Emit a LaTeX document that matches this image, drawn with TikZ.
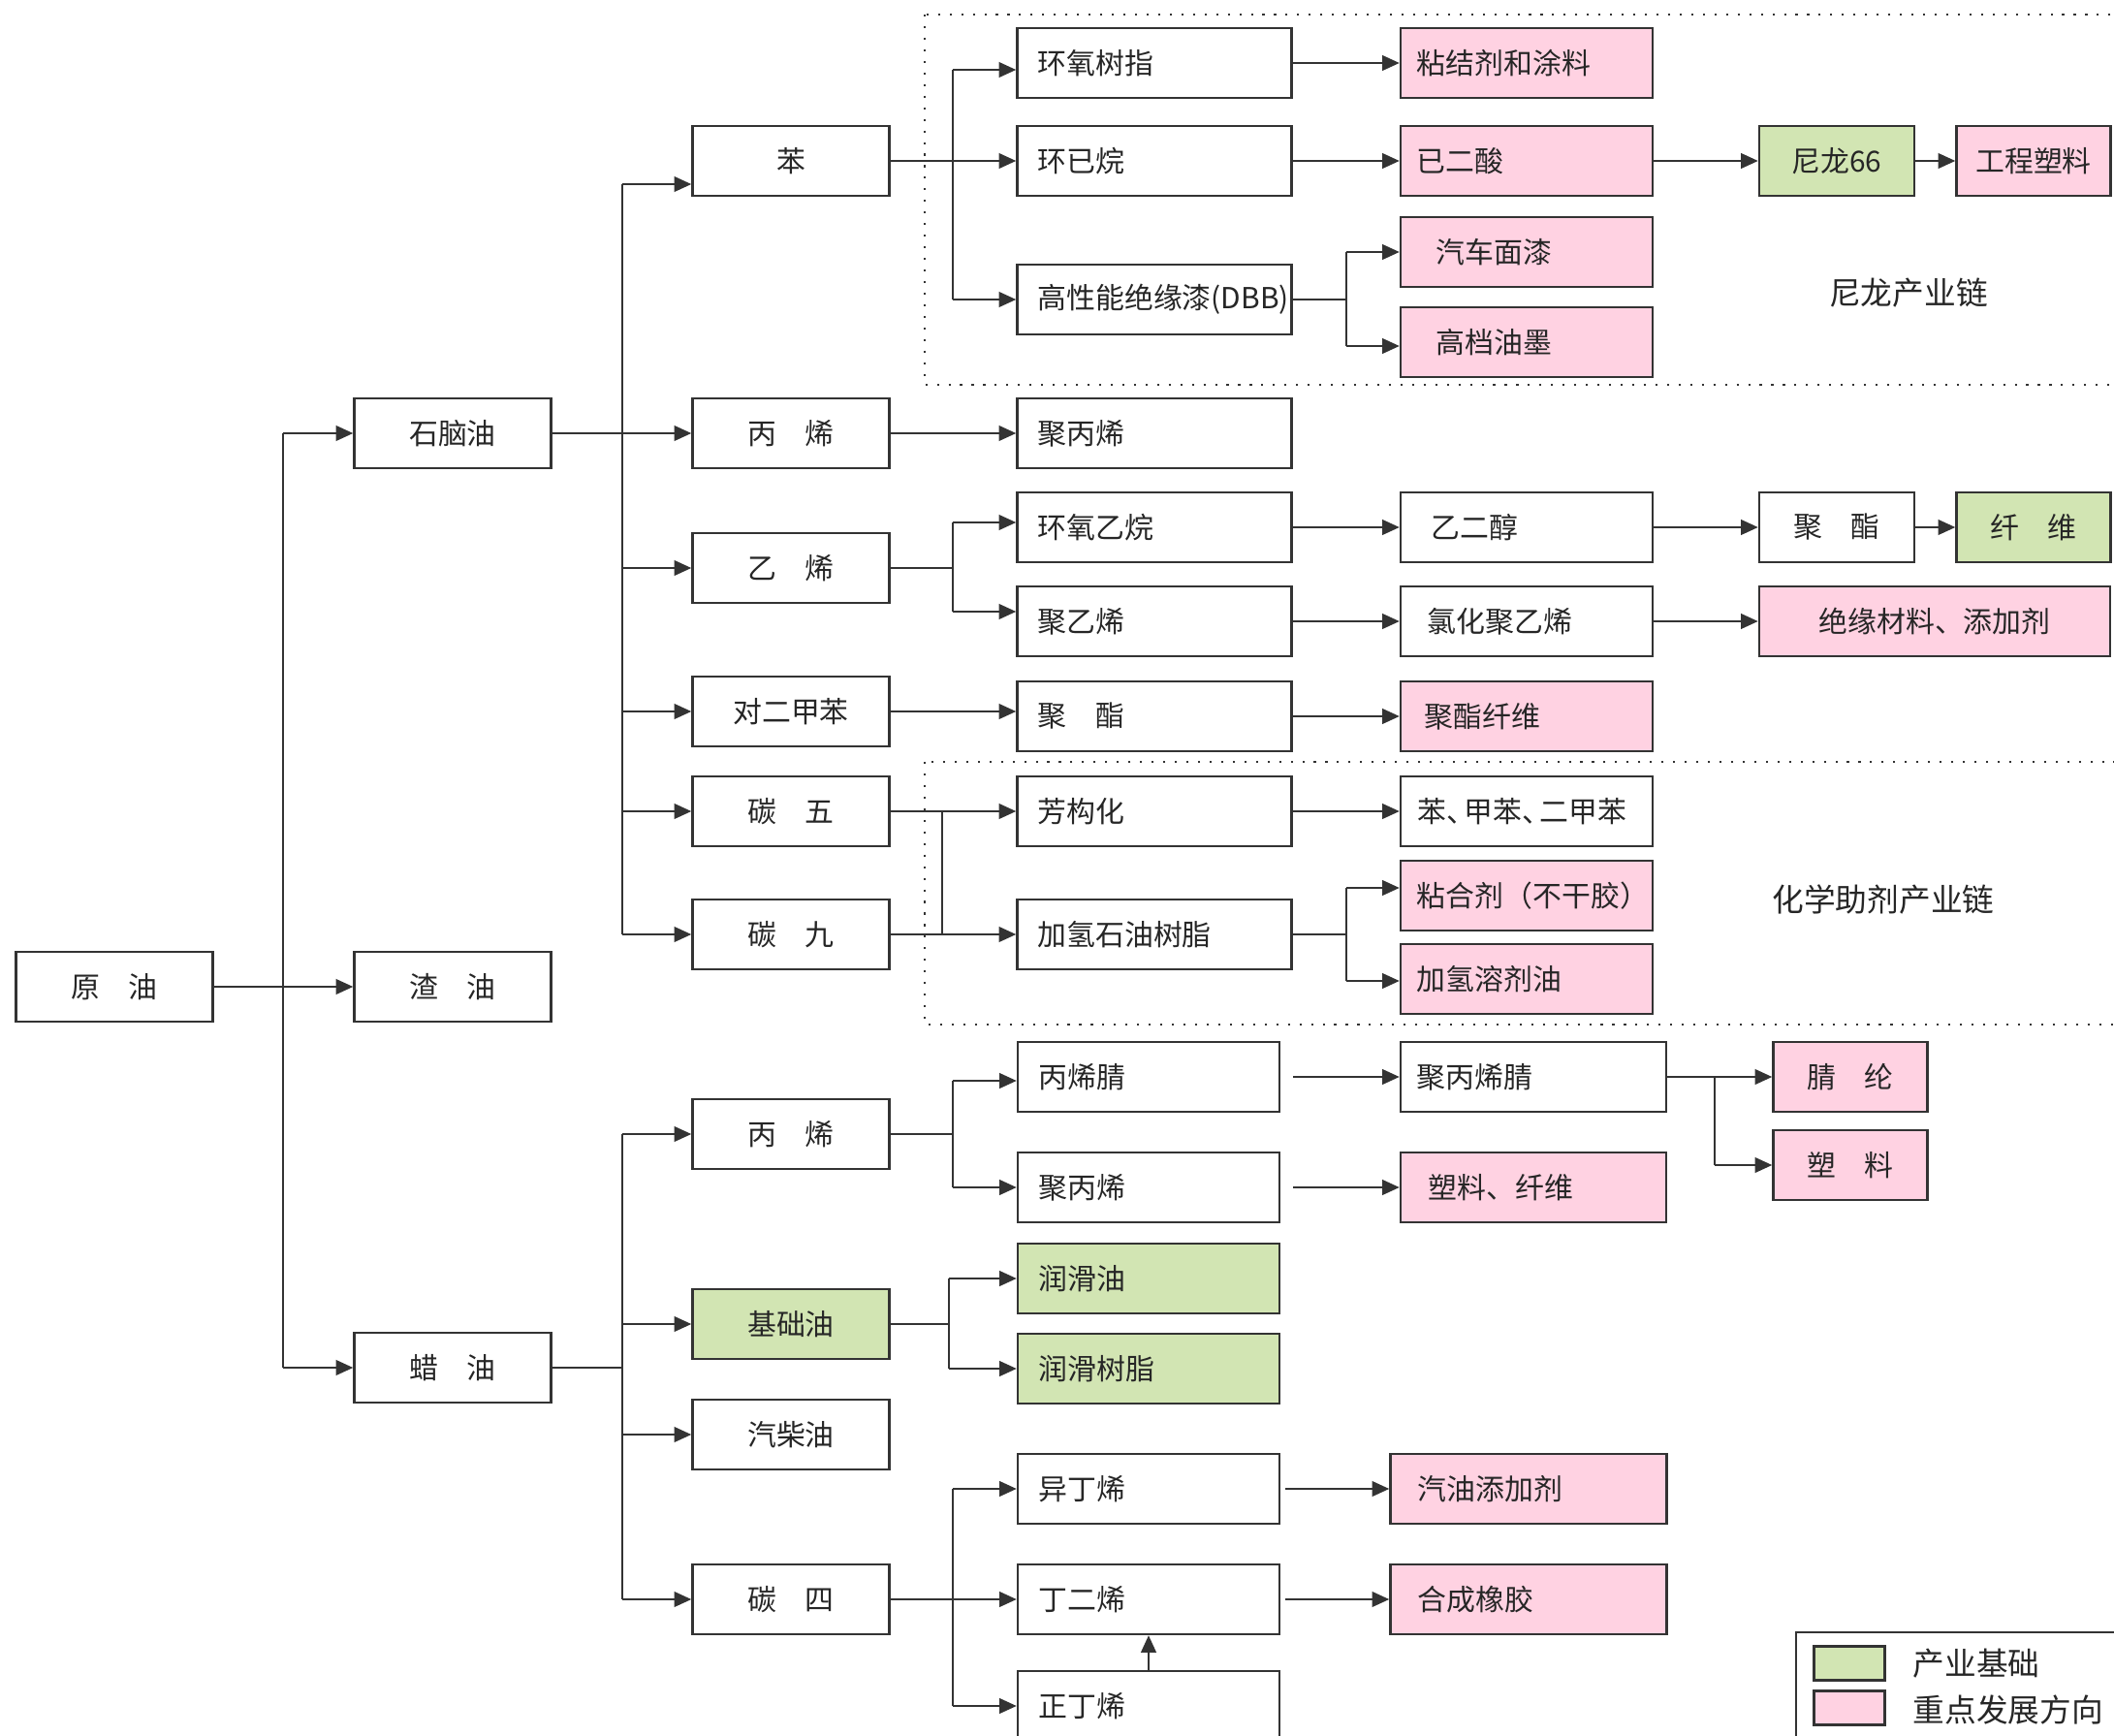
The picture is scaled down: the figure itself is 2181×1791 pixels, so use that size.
\documentclass[tikz,border=0pt]{standalone}
\usepackage{fontspec}
\newfontfamily\cjk{Noto Sans CJK SC}
\usetikzlibrary{arrows.meta}
\definecolor{gfill}{HTML}{D2E5B3}
\definecolor{pfill}{HTML}{FFD2E2}
\definecolor{lc}{HTML}{333333}
\begin{document}
\begin{tikzpicture}[x=0.01cm,y=-0.01cm,
 box/.style={draw=lc, line width=0.65pt, minimum height=0.72cm, inner ysep=0pt, inner xsep=0pt,
   font=\cjk\fontsize{8.5pt}{10pt}\selectfont, text=black!85},
 cbox/.style={box, minimum width=#1},
 lbox/.style 2 args={box, text width=#1, inner xsep=#2, align=left},
 g/.style={fill=gfill}, p/.style={fill=pfill},
 arr/.style={draw=lc, line width=0.65pt, -{Triangle[length=5pt,width=4.4pt]}},
 ln/.style={draw=lc, line width=0.65pt},
 chainbox/.style={draw=lc, line width=0.6pt, dash pattern=on 0.6pt off 2.8pt},
 lbl/.style={font=\cjk\fontsize{9.3pt}{11pt}\selectfont, text=black!85}
]
\useasboundingbox (0,0) rectangle (2181,1791);
\fill[white] (0,0) rectangle (2181,1791);

% dotted chain frames
\draw[chainbox] (954,15) rectangle (2200,397);
\draw[chainbox] (954,786) rectangle (2200,1057);
\node[lbl] (nlc) at (1969,302) {尼龙产业链};
\node[lbl] (hxc) at (1943,928) {化学助剂产业链};

% column 1-2
\node[cbox=2.03cm] (yy) at (118,1018) {原\hspace{1em}油};
\node[cbox=2.03cm] (sny) at (467,447) {石脑油};
\node[cbox=2.03cm] (zy) at (467,1018) {渣\hspace{1em}油};
\node[cbox=2.03cm] (ly) at (467,1411) {蜡\hspace{1em}油};

% column 3
\node[cbox=2.03cm] (ben) at (816,166) {苯};
\node[cbox=2.03cm] (bx1) at (816,447) {丙\hspace{1em}烯};
\node[cbox=2.03cm] (yx) at (816,586) {乙\hspace{1em}烯};
\node[cbox=2.03cm] (dejb) at (816,734) {对二甲苯};
\node[cbox=2.03cm] (t5) at (816,837) {碳\hspace{1em}五};
\node[cbox=2.03cm] (t9) at (816,964) {碳\hspace{1em}九};
\node[cbox=2.03cm] (bx2) at (816,1170) {丙\hspace{1em}烯};
\node[cbox=2.03cm,g] (jcy) at (816,1366) {基础油};
\node[cbox=2.03cm] (qcy) at (816,1480) {汽柴油};
\node[cbox=2.03cm] (t4) at (816,1650) {碳\hspace{1em}四};

% column 4 (upper)
\node[lbox={2.41cm}{0.21cm}] (hy) at (1191,65) {环氧树指};
\node[lbox={2.41cm}{0.21cm}] (hjw) at (1191,166) {环已烷};
\node[lbox={2.41cm}{0.21cm}] (gxn) at (1191,309) {高性能绝缘漆(DBB)};
\node[lbox={2.41cm}{0.21cm}] (jbx1) at (1191,447) {聚丙烯};
\node[lbox={2.41cm}{0.21cm}] (hyyw) at (1191,544) {环氧乙烷};
\node[lbox={2.41cm}{0.21cm}] (jyx) at (1191,641) {聚乙烯};
\node[lbox={2.41cm}{0.21cm}] (jz) at (1191,739) {聚\hspace{1em}酯};
\node[lbox={2.41cm}{0.21cm}] (fgh) at (1191,837) {芳构化};
\node[lbox={2.41cm}{0.21cm}] (jqs) at (1191,964) {加氢石油树脂};

% column 4 (lower)
\node[lbox={2.26cm}{0.22cm}] (bxj) at (1185,1111) {丙烯腈};
\node[lbox={2.26cm}{0.22cm}] (jbx2) at (1185,1225) {聚丙烯};
\node[lbox={2.26cm}{0.22cm},g] (rhy) at (1185,1319) {润滑油};
\node[lbox={2.26cm}{0.22cm},g] (rhsz) at (1185,1412) {润滑树脂};
\node[lbox={2.26cm}{0.22cm}] (ydx) at (1185,1536) {异丁烯};
\node[lbox={2.26cm}{0.22cm}] (dex) at (1185,1650) {丁二烯};
\node[lbox={2.26cm}{0.22cm}] (zdx) at (1185,1760) {正丁烯};

% column 5
\node[lbox={2.26cm}{0.17cm},p] (zjj) at (1575,65) {粘结剂和涂料};
\node[lbox={2.26cm}{0.17cm},p] (yes) at (1575,166) {已二酸};
\node[lbox={1.86cm}{0.37cm},p] (qcm) at (1575,260) {汽车面漆};
\node[lbox={1.86cm}{0.37cm},p] (gdy) at (1575,353) {高档油墨};
\node[lbox={1.96cm}{0.32cm}] (yec) at (1575,544) {乙二醇};
\node[lbox={2.04cm}{0.28cm}] (lhj) at (1575,641) {氯化聚乙烯};
\node[lbox={2.10cm}{0.25cm},p] (jzxw) at (1575,739) {聚酯纤维};
\node[lbox={2.24cm}{0.18cm}] (bjb) at (1575,837) {苯、\hspace{-0.4em}甲苯、\hspace{-0.4em}二甲苯};
\node[lbox={2.26cm}{0.17cm},p] (nhj) at (1575,924) {粘合剂（不干胶）};
\node[lbox={2.26cm}{0.17cm},p] (jqr) at (1575,1010) {加氢溶剂油};
\node[lbox={2.40cm}{0.17cm}] (jbxj) at (1582,1111) {聚丙烯腈};
\node[lbox={2.16cm}{0.29cm},p] (slxw) at (1582,1225) {塑料、纤维};
\node[lbox={2.29cm}{0.28cm},p] (qyt) at (1577,1536) {汽油添加剂};
\node[lbox={2.29cm}{0.28cm},p] (hcxj) at (1577,1650) {合成橡胶};

% column 6
\node[cbox=1.60cm,g] (nl66) at (1895,166) {尼龙66};
\node[cbox=1.59cm,p] (gcsl) at (2098,166) {工程塑料};
\node[cbox=1.60cm] (jz2) at (1895,544) {聚\hspace{1em}酯};
\node[cbox=1.59cm,g] (xw) at (2098,544) {纤\hspace{1em}维};
\node[cbox=3.62cm,p] (jyc) at (1996,641) {绝缘材料、添加剂};
\node[cbox=1.59cm,p] (jl) at (1909,1111) {腈\hspace{1em}纶};
\node[cbox=1.59cm,p] (sl) at (1909,1202) {塑\hspace{1em}料};

% trunk x positions
\coordinate (k1) at (292,0);
\coordinate (k2) at (642,0);
\coordinate (k3) at (983,0);
\coordinate (k4) at (1389,0);
\coordinate (k5) at (972,0);
\coordinate (k6) at (1769,0);
\coordinate (k7) at (979,0);

% offset arrow targets
\coordinate (bena) at ([yshift=-0.24cm]ben.west);
\coordinate (hya) at ([yshift=-0.07cm]hy.west);
\coordinate (gdya) at ([yshift=-0.04cm]gdy.west);
\coordinate (hyywa) at ([yshift=0.05cm]hyyw.west);
\coordinate (jyxa) at ([yshift=0.10cm]jyx.west);
\coordinate (nhja) at ([yshift=0.08cm]nhj.west);
\coordinate (jqra) at ([yshift=-0.02cm]jqr.west);
\coordinate (bxja) at ([yshift=-0.04cm]bxj.west);

% 原油
\draw[arr] (yy.east) -- (zy.west);
\draw[ln] (k1 |- sny.west) -- (k1 |- ly.west);
\draw[arr] (k1 |- sny.west) -- (sny.west);
\draw[arr] (k1 |- ly.west) -- (ly.west);

% 石脑油
\draw[arr] (sny.east) -- (bx1.west);
\draw[ln] (k2 |- bena) -- (k2 |- t9.west);
\draw[arr] (k2 |- bena) -- (bena);
\draw[arr] (k2 |- yx.west) -- (yx.west);
\draw[arr] (k2 |- dejb.west) -- (dejb.west);
\draw[arr] (k2 |- t5.west) -- (t5.west);
\draw[arr] (k2 |- t9.west) -- (t9.west);

% 苯
\draw[arr] (ben.east) -- (hjw.west);
\draw[ln] (k3 |- hya) -- (k3 |- gxn.west);
\draw[arr] (k3 |- hya) -- (hya);
\draw[arr] (k3 |- gxn.west) -- (gxn.west);
\draw[arr] (hy.east) -- (zjj.west);
\draw[arr] (hjw.east) -- (yes.west);
\draw[arr] (yes.east) -- (nl66.west);
\draw[arr] (nl66.east) -- (gcsl.west);
\draw[ln] (gxn.east) -- (gxn.east -| k4);
\draw[ln] (k4 |- qcm.west) -- (k4 |- gdya);
\draw[arr] (k4 |- qcm.west) -- (qcm.west);
\draw[arr] (k4 |- gdya) -- (gdya);

% 丙烯 / 乙烯 / 对二甲苯
\draw[arr] (bx1.east) -- (jbx1.west);
\draw[ln] (yx.east) -- (yx.east -| k3);
\draw[ln] (k3 |- hyywa) -- (k3 |- jyxa);
\draw[arr] (k3 |- hyywa) -- (hyywa);
\draw[arr] (k3 |- jyxa) -- (jyxa);
\draw[arr] (hyyw.east) -- (yec.west);
\draw[arr] (yec.east) -- (jz2.west);
\draw[arr] (jz2.east) -- (xw.west);
\draw[arr] (jyx.east) -- (lhj.west);
\draw[arr] (lhj.east) -- (jyc.west);
\draw[arr] (dejb.east) -- (dejb.east -| jz.west);
\draw[arr] (jz.east) -- (jzxw.west);

% 碳五 / 碳九
\draw[arr] (t5.east) -- (fgh.west);
\draw[arr] (t9.east) -- (jqs.west);
\draw[ln] (k5 |- t5.east) -- (k5 |- t9.east);
\draw[arr] (fgh.east) -- (bjb.west);
\draw[ln] (jqs.east) -- (jqs.east -| k4);
\draw[ln] (k4 |- nhja) -- (k4 |- jqra);
\draw[arr] (k4 |- nhja) -- (nhja);
\draw[arr] (k4 |- jqra) -- (jqra);

% 蜡油
\draw[ln] (ly.east) -- (ly.east -| k2);
\draw[ln] (k2 |- bx2.west) -- (k2 |- t4.west);
\draw[arr] (k2 |- bx2.west) -- (bx2.west);
\draw[arr] (k2 |- jcy.west) -- (jcy.west);
\draw[arr] (k2 |- qcy.west) -- (qcy.west);
\draw[arr] (k2 |- t4.west) -- (t4.west);

% 丙烯 (lower)
\draw[ln] (bx2.east) -- (bx2.east -| k3);
\draw[ln] (k3 |- bxja) -- (k3 |- jbx2.west);
\draw[arr] (k3 |- bxja) -- (bxja);
\draw[arr] (k3 |- jbx2.west) -- (jbx2.west);
\draw[arr] ([xshift=0.13cm]bxj.east) -- (jbxj.west);
\draw[arr] ([xshift=0.13cm]jbx2.east) -- (slxw.west);
\draw[arr] (jbxj.east) -- (jl.west);
\draw[ln] (k6 |- jbxj.east) -- (k6 |- sl.west);
\draw[arr] (k6 |- sl.west) -- (sl.west);

% 基础油
\draw[ln] (jcy.east) -- (jcy.east -| k7);
\draw[ln] (k7 |- rhy.west) -- (k7 |- rhsz.west);
\draw[arr] (k7 |- rhy.west) -- (rhy.west);
\draw[arr] (k7 |- rhsz.west) -- (rhsz.west);

% 碳四
\draw[arr] (t4.east) -- (dex.west);
\draw[ln] (k3 |- ydx.west) -- (k3 |- zdx.west);
\draw[arr] (k3 |- ydx.west) -- (ydx.west);
\draw[arr] (k3 |- zdx.west) -- (zdx.west);
\draw[arr] ([xshift=0.05cm]ydx.east) -- (qyt.west);
\draw[arr] ([xshift=0.05cm]dex.east) -- (hcxj.west);
\draw[arr] (zdx.north) -- (dex.south);

% legend
\draw[draw=lc, line width=0.8pt] (1853,1684) rectangle (2200,1800);
\node[draw=lc, line width=0.6pt, fill=gfill, minimum width=0.73cm, minimum height=0.35cm, inner sep=0pt] (lgg) at (1908,1716) {};
\node[draw=lc, line width=0.6pt, fill=pfill, minimum width=0.73cm, minimum height=0.35cm, inner sep=0pt] (lgp) at (1908,1762) {};
\node[lbl, anchor=west, inner sep=0pt] (lgt1) at (1973,1716) {产业基础};
\node[lbl, anchor=west, inner sep=0pt] (lgt2) at (1973,1764) {重点发展方向};
\end{tikzpicture}
\end{document}
